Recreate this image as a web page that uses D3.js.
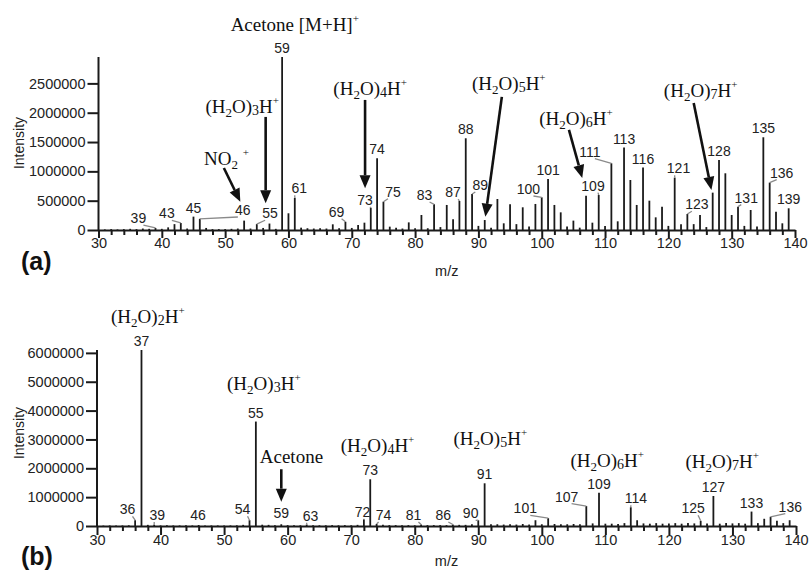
<html>
<head>
<style>
  body { margin: 0; background: white; }
  svg { display: block; }
</style>
<script src="https://cdn.jsdelivr.net/npm/d3@7"></script>
</head>
<body>
<svg id="chart" width="812" height="570"></svg>
<script>

// ---- panel (a) spectrum: m/z 31..139
let mzA = [31,32,33,34,35,36,37,38,39,40,41,42,43,44,45,46,47,48,49,50,
  51,52,53,54,55,56,57,58,59,60,61,62,63,64,65,66,67,68,69,70,
  71,72,73,74,75,76,77,78,79,80,81,82,83,84,85,86,87,88,89,90,
  91,92,93,94,95,96,97,98,99,100,101,102,103,104,105,106,107,108,109,110,
  111,112,113,114,115,116,117,118,119,120,121,122,123,124,125,126,127,128,129,130,
  131,132,133,134,135,136,137,138,139]
let intensityA = [10000,15000,10000,15000,20000,15000,25000,20000,35000,20000,45000,100000,120000,25000,228000,190000,35000,15000,15000,15000,
  20000,25000,160000,25000,100000,35000,110000,20000,2950000,285000,550000,40000,30000,25000,30000,25000,97000,30000,140000,35000,
  85000,125000,380000,1223000,483000,57000,40000,25000,130000,30000,256000,30000,438000,50000,427000,182000,495000,1564000,614000,70000,
  170000,40000,529000,114000,438000,100000,387000,60000,444000,557000,870000,427000,301000,60000,160000,40000,586000,125000,597000,70000,
  1138000,148000,1405000,853000,427000,1064000,500000,216000,398000,70000,893000,100000,273000,100000,256000,50000,637000,1194000,967000,256000,
  398000,70000,341000,60000,1581000,808000,313000,114000,370000]
let labelsA = [39,43,45,46,55,59,61,69,73,74,75,83,87,88,89,100,101,109,111,113,116,121,123,128,131,135,136,139]
let yTicksA = [0,500000,1000000,1500000,2000000,2500000]

// ---- panel (b) spectrum
let mzB = mzA.slice()
let intensityB = [15000,20000,15000,20000,25000,200000,6100000,40000,45000,20000,25000,20000,20000,25000,20000,35000,20000,20000,20000,20000,
  20000,25000,40000,200000,3620000,45000,40000,30000,60000,30000,25000,25000,50000,25000,25000,25000,30000,25000,30000,25000,
  40000,230000,1620000,70000,40000,30000,30000,25000,30000,25000,50000,30000,30000,30000,30000,50000,40000,40000,60000,200000,
  1480000,60000,60000,50000,60000,50000,70000,50000,200000,60000,270000,70000,60000,60000,70000,60000,690000,90000,1155000,80000,
  80000,70000,100000,650000,200000,90000,80000,100000,80000,90000,100000,80000,100000,90000,180000,90000,1040000,80000,100000,90000,
  100000,80000,500000,100000,250000,320000,180000,100000,200000]
let labelsB = [36,37,39,46,54,55,59,63,72,73,74,81,86,90,91,101,107,109,114,125,127,133,136]
let yTicksB = [0,1000000,2000000,3000000,4000000,5000000,6000000]

let xTicks = [30,40,50,60,70,80,90,100,110,120,130,140]

// where displaced peak labels sit (m/z, intensity); others sit on top of their peak
let labelPosA = {39:[36.3,119000], 43:[40.8,200000], 46:[52.8,256000], 55:[57.1,200000],
  61:[61.7,626000], 69:[67.6,227000], 73:[72.1,427000], 75:[76.5,568000], 83:[81.5,512000],
  87:[86.0,558000], 89:[90.3,683000], 100:[97.9,614000], 109:[108.1,671000], 111:[107.6,1251000],
  121:[121.6,968000], 123:[124.5,353000], 131:[132.3,466000], 136:[137.9,893000]}
let labelPosB = {36:[34.8,406000], 39:[39.5,208000], 46:[45.9,208000,"none"], 54:[52.9,406000],
  59:[59.0,267000,"none"], 63:[63.6,184000], 72:[71.8,323000], 74:[75.1,208000], 81:[79.8,208000],
  86:[84.5,208000], 90:[88.8,267000], 101:[97.4,440000], 107:[103.9,843000], 114:[114.8,787000],
  125:[123.8,440000], 136:[139.1,496000]}

// ion annotations: "_" = subscript, "~" = small index, "^" = superscript (next char)
let notesA = [
  {text: "Acetone [M+H]^+", at: [61.0, 3396000]},
  {text: "(H_2O)~3H^+", at: [52.7, 1997000], arrow: [[56.4, 1928000], [56.4, 456000]]},
  {text: "NO_2 ^+", at: [50.2, 1109000], arrow: [[49.8, 1058000], [52.4, 483000]]},
  {text: "(H_2O)~4H^+", at: [72.9, 2304000], arrow: [[72.1, 2218000], [72.1, 712000]]},
  {text: "(H_2O)~5H^+", at: [94.8, 2389000], arrow: [[93.7, 2270000], [91.1, 227000]]},
  {text: "(H_2O)~6H^+", at: [105.4, 1792000], arrow: [[104.3, 1706000], [106.4, 887000]]},
  {text: "(H_2O)~7H^+", at: [125.1, 2270000], arrow: [[124.0, 2167000], [126.8, 683000]]}
]
let notesB = [
  {text: "(H_2O)~2H^+", at: [38.0, 7031000]},
  {text: "(H_2O)~3H^+", at: [56.25, 4717000]},
  {text: "Acetone", at: [60.6, 2175000], arrow: [[59.0, 1967000], [59.0, 843000]]},
  {text: "(H_2O)~4H^+", at: [74.15, 2577000]},
  {text: "(H_2O)~5H^+", at: [91.9, 2810000]},
  {text: "(H_2O)~6H^+", at: [110.3, 2057000]},
  {text: "(H_2O)~7H^+", at: [128.4, 2001000]}
]

let svg = d3.select("#chart")
let sans = "'Liberation Sans', Arial, sans-serif"
let serif = "'Liberation Serif', 'Times New Roman', serif"

function formula(g, x, y, str) {
  let t = g.append("text").attr("x", x).attr("y", y)
    .attr("text-anchor", "middle")
    .style("font-family", serif).style("font-size", "19px").attr("fill", "#111")
  let shift = 0
  let i = 0
  while (i < str.length) {
    let c = str[i]
    let kind = ""
    if (c == "_" || c == "~" || c == "^") { kind = c; i++; c = str[i] }
    let target = 0, size = "19px"
    if (kind == "_") { target = 4; size = "13px" }
    if (kind == "~") { target = 2; size = "14px" }
    if (kind == "^") { target = -9; size = "11px" }
    // merge plain runs
    let s = c
    if (kind == "") {
      while (i + 1 < str.length && !"_~^".includes(str[i + 1])) { i++; s += str[i] }
    }
    t.append("tspan").attr("dy", target - shift).style("font-size", size).text(s)
    shift = target
    i++
  }
}

function arrow(g, x1, y1, x2, y2) {
  let ang = Math.atan2(y2 - y1, x2 - x1)
  let hl = 13, hw = 5.5
  let bx = x2 - hl * Math.cos(ang), by = y2 - hl * Math.sin(ang)
  g.append("line").attr("x1", x1).attr("y1", y1).attr("x2", bx).attr("y2", by)
    .attr("stroke", "#111").attr("stroke-width", 2.6)
  g.append("path")
    .attr("d", `M${x2},${y2}L${bx - hw * Math.sin(ang)},${by + hw * Math.cos(ang)}L${bx + hw * Math.sin(ang)},${by - hw * Math.cos(ang)}Z`)
    .attr("fill", "#111")
}

function drawPanel(p) {
  let g = svg.append("g")
  let x = d3.scaleLinear().domain([30, 140]).range([p.left, p.right])
  let y = d3.scaleLinear().domain([0, p.ymax]).range([p.base, p.top])

  // peaks
  let peaks = d3.zip(p.mz, p.vals)
  g.append("g").selectAll("line").data(peaks).join("line")
    .attr("x1", d => x(d[0])).attr("x2", d => x(d[0]))
    .attr("y1", p.base).attr("y2", d => y(d[1]))
    .attr("stroke", "#1a1a1a").attr("stroke-width", 1.8)

  // y axis
  let ya = g.append("g").attr("transform", `translate(${p.left},0)`)
    .call(d3.axisLeft(y).tickValues(p.yticks).tickSize(11).tickSizeOuter(0).tickPadding(2).tickFormat(d3.format("d")))
  ya.select(".domain").attr("d", `M0,${p.base}V${p.top}`)

  // x axis, major and minor ticks
  let xa = g.append("g").attr("transform", `translate(0,${p.base})`)
    .call(d3.axisBottom(x).tickValues(xTicks).tickSize(p.tickLen).tickSizeOuter(0).tickPadding(0))
  g.append("g").attr("transform", `translate(0,${p.base})`)
    .call(d3.axisBottom(x).tickValues(d3.range(32, 140, 2).filter(v => v % 10)).tickSize(5).tickFormat(""))
    .select(".domain").remove()

  g.selectAll(".domain, .tick line").attr("stroke", "#1a1a1a").attr("stroke-width", 2)
  g.selectAll(".tick text").style("font-family", sans).style("font-size", "14.5px").attr("fill", "#222")

  // peak labels
  let lab = g.append("g").style("font-family", sans).style("font-size", "14px").attr("fill", "#222")
  for (let m of p.labels) {
    let v = p.vals[p.mz.indexOf(m)]
    let bx = x(m), by = y(v)
    let pos = p.labelPos[m]
    if (!pos) {
      lab.append("text").attr("x", bx).attr("y", by - 4).attr("text-anchor", "middle").text(m)
      continue
    }
    let lx = x(pos[0]), ly = y(pos[1])
    lab.append("text").attr("x", lx).attr("y", ly).attr("text-anchor", "middle").text(m)
    if (pos[2] != "none") {
      let sx = lx + Math.max(-5, Math.min(5, bx - lx))
      g.append("line").attr("x1", sx).attr("y1", ly + 2).attr("x2", bx).attr("y2", by)
        .attr("stroke", "#8a8a8a").attr("stroke-width", 1.3)
    }
  }

  // ion annotations
  for (let n of p.notes) {
    formula(g, x(n.at[0]), y(n.at[1]), n.text)
    if (n.arrow) arrow(g, x(n.arrow[0][0]), y(n.arrow[0][1]), x(n.arrow[1][0]), y(n.arrow[1][1]))
  }

  // titles
  g.append("text").attr("transform", `translate(24,${p.ylabY}) rotate(-90)`)
    .attr("text-anchor", "middle").style("font-family", sans).style("font-size", "14px")
    .attr("fill", "#222").text("Intensity")
  g.append("text").attr("x", (p.left + p.right) / 2).attr("y", p.mzY)
    .attr("text-anchor", "middle").style("font-family", sans).style("font-size", "14.5px")
    .attr("fill", "#222").text("m/z")
  g.append("text").attr("x", 21).attr("y", p.tagY)
    .style("font-family", sans).style("font-size", "25px").style("font-weight", "bold")
    .attr("fill", "#111").text(p.tag)
}

drawPanel({mz: mzA, vals: intensityA, labels: labelsA, labelPos: labelPosA, notes: notesA,
  yticks: yTicksA, ymax: 2950000, left: 98.5, right: 795, base: 230, top: 57,
  tickLen: 8, ylabY: 143, mzY: 276, tag: "(a)", tagY: 269.5})
drawPanel({mz: mzB, vals: intensityB, labels: labelsB, labelPos: labelPosB, notes: notesB,
  yticks: yTicksB, ymax: 6100000, left: 97, right: 796, base: 526, top: 350,
  tickLen: 9, ylabY: 433, mzY: 566, tag: "(b)", tagY: 565})

</script>
</body>
</html>
